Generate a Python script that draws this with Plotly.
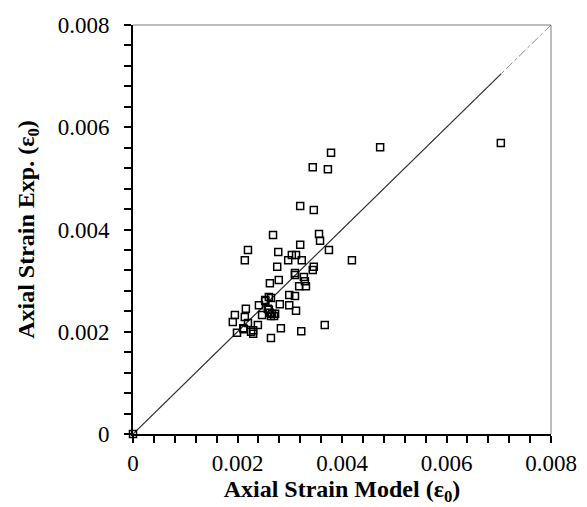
import plotly.graph_objects as go

# Model vs. experimental axial strain at peak (ε0)
model_strain = [
    0.0, 0.00268, 0.00356, 0.00358, 0.00320, 0.00220, 0.00278, 0.00375, 0.00214,
    0.00304, 0.00312, 0.00297, 0.00323, 0.00419, 0.00276, 0.00346, 0.00344,
    0.00310, 0.00310, 0.00327, 0.00329, 0.00279, 0.00262, 0.00318, 0.00331,
    0.00299, 0.00310, 0.00260, 0.00264, 0.00253, 0.00253, 0.00241, 0.00281,
    0.00299, 0.00258, 0.00260, 0.00216, 0.00312, 0.00262, 0.00266, 0.00272,
    0.00264, 0.00270, 0.00247, 0.00195, 0.00214, 0.00191, 0.00220, 0.00239,
    0.00211, 0.00212, 0.00230, 0.00226, 0.00230, 0.00199, 0.00283, 0.00322,
    0.00367, 0.00264, 0.00344, 0.00373, 0.00379, 0.00473, 0.00704, 0.00320,
    0.00346,
]
exp_strain = [
    0.0, 0.00389, 0.00391, 0.00378, 0.00370, 0.00360, 0.00356, 0.00360, 0.00340,
    0.00350, 0.00350, 0.00340, 0.00340, 0.00340, 0.00327, 0.00327, 0.00321,
    0.00315, 0.00311, 0.00307, 0.00299, 0.00301, 0.00295, 0.00289, 0.00289,
    0.00272, 0.00270, 0.00268, 0.00266, 0.00262, 0.00260, 0.00252, 0.00254,
    0.00252, 0.00245, 0.00243, 0.00245, 0.00241, 0.00237, 0.00235, 0.00235,
    0.00231, 0.00231, 0.00233, 0.00233, 0.00229, 0.00219, 0.00217, 0.00213,
    0.00207, 0.00205, 0.00203, 0.00200, 0.00196, 0.00198, 0.00207, 0.00201,
    0.00213, 0.00188, 0.00522, 0.00518, 0.00550, 0.00561, 0.00569, 0.00446,
    0.00438,
]

# Line of equality
equality_x = [0.0, 0.008]
equality_y = [0.0, 0.008]
# Solid part of the equality line, up to the largest model value
fit_x = [0.0, 0.00705]
fit_y = [0.0, 0.00705]

tick_vals = [0, 0.002, 0.004, 0.006, 0.008]
tick_text = ["0", "0.002", "0.004", "0.006", "0.008"]

serif = "Liberation Serif, Times New Roman, serif"

fig = go.Figure()
fig.add_trace(go.Scatter(
    x=equality_x, y=equality_y, mode="lines",
    line=dict(color="#8a8a8a", width=1, dash="dashdot"),
    hoverinfo="skip", showlegend=False,
))
fig.add_trace(go.Scatter(
    x=fit_x, y=fit_y, mode="lines",
    line=dict(color="#333333", width=1.2),
    hoverinfo="skip", showlegend=False,
))
fig.add_trace(go.Scatter(
    x=model_strain, y=exp_strain, mode="markers",
    marker=dict(symbol="square-open", size=7, color="black",
                line=dict(color="black", width=1.5)),
    cliponaxis=False, showlegend=False,
))

axis_common = dict(
    range=[0, 0.008],
    tickvals=tick_vals, ticktext=tick_text,
    ticks="outside", ticklen=7, tickwidth=1.5, tickcolor="black",
    minor=dict(dtick=0.0004, ticks="outside", ticklen=7, tickwidth=1.5,
               tickcolor="black", showgrid=False),
    showline=True, linecolor="black", linewidth=2,
    showgrid=False, zeroline=False, automargin=False,
    tickfont=dict(family=serif, size=23, color="black"),
    title_font=dict(family=serif, size=24, color="black"),
)

fig.update_xaxes(
    **axis_common,
    title_text="<b>Axial Strain Model (ε<sub>0</sub>)</b>",
    title_standoff=4,
    ticklabelstandoff=0,
)
fig.update_yaxes(
    **axis_common,
    title_text="<b>Axial Strain Exp. (ε<sub>0</sub>)</b>",
    title_standoff=16,
    ticklabelstandoff=10,
)

# Thin grey frame on the top and right sides
fig.add_shape(type="line", xref="paper", yref="paper", x0=0, x1=1, y0=1, y1=1,
              line=dict(color="#7a7a7a", width=1))
fig.add_shape(type="line", xref="paper", yref="paper", x0=1, x1=1, y0=0, y1=1,
              line=dict(color="#7a7a7a", width=1))

fig.update_layout(
    width=587, height=507,
    margin=dict(l=133, r=36, t=25, b=73),
    plot_bgcolor="white", paper_bgcolor="white",
)

fig.write_html("out.html")
